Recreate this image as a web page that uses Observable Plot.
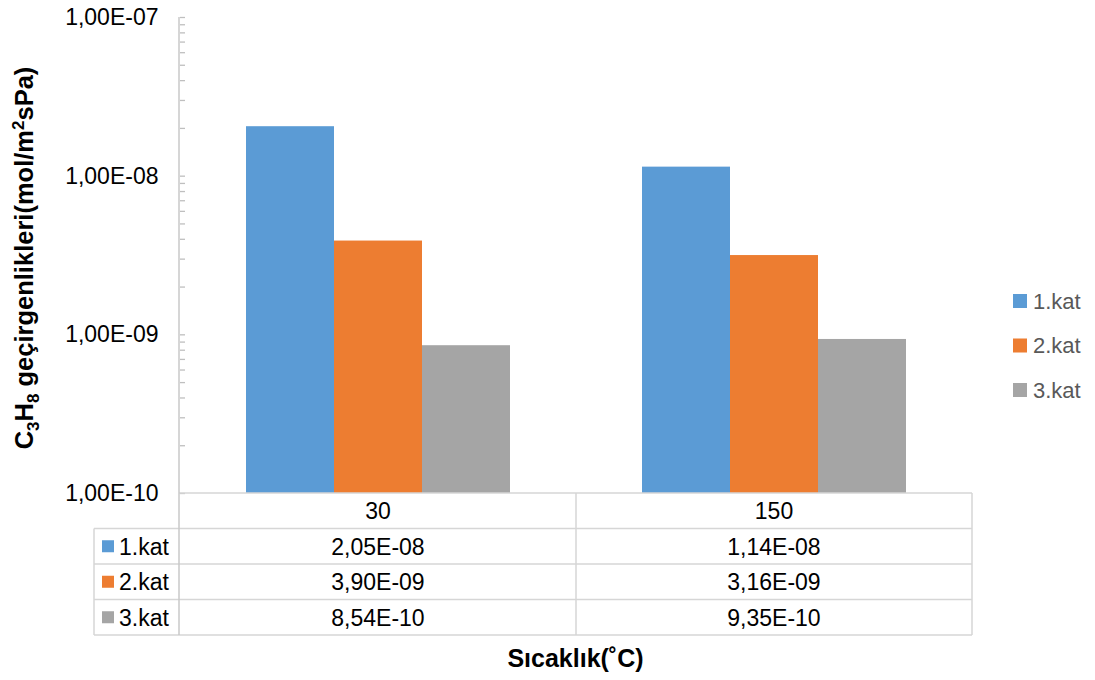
<!DOCTYPE html>
<html>
<head>
<meta charset="utf-8">
<script src="https://cdn.jsdelivr.net/npm/d3@7"></script>
<script src="https://cdn.jsdelivr.net/npm/@observablehq/plot@0.6"></script>
<style>
  html, body { margin: 0; padding: 0; background: #fff; }
  #chart { position: relative; width: 1095px; height: 680px; }
  svg { font-family: "Liberation Sans", Arial, sans-serif; }
</style>
</head>
<body>
<div id="chart"></div>
<script>
// ---- data ----
const categories = ["30", "150"];
const series = ["1.kat", "2.kat", "3.kat"];
const kat1 = [2.05e-8, 1.14e-8];
const kat2 = [3.90e-9, 3.16e-9];
const kat3 = [8.54e-10, 9.35e-10];
const yMajorTicks = [1e-10, 1e-9, 1e-8, 1e-7];
const yMinorTicks = [2e-10,3e-10,4e-10,5e-10,6e-10,7e-10,8e-10,9e-10,
                     2e-9,3e-9,4e-9,5e-9,6e-9,7e-9,8e-9,9e-9,
                     2e-8,3e-8,4e-8,5e-8,6e-8,7e-8,8e-8,9e-8];
const colors = ["#5b9bd5", "#ed7d31", "#a5a5a5"];
const yTitle = "geçirgenlikleri(mol/m";
const xTitle = "Sıcaklık(˚C)";

const seriesValues = [kat1, kat2, kat3];
const data = [];
series.forEach((s, i) => categories.forEach((c, j) => data.push({cat: c, series: s, value: seriesValues[i][j]})));

function fmtE(v) {
  const [m, e] = v.toExponential(2).split("e");
  const n = +e;
  return m.replace(".", ",") + "E" + (n < 0 ? "-" : "+") + String(Math.abs(n)).padStart(2, "0");
}

const W = 1095, H = 680;
const mL = 179, mR = 123, mT = 17, mB = 187;
const lineColor = "#d6d6d6";

const plot = Plot.plot({
  width: W, height: H,
  marginTop: mT, marginBottom: mB, marginLeft: mL, marginRight: mR,
  style: {fontFamily: "Liberation Sans, Arial, sans-serif", background: "#fff"},
  fx: {domain: categories, padding: 0, axis: null, label: null},
  x: {domain: series, paddingInner: 0, paddingOuter: 0.75, axis: null},
  y: {type: "log", domain: [yMajorTicks[0], yMajorTicks[yMajorTicks.length - 1]], axis: null, label: null},
  color: {domain: series, range: colors},
  marks: [
    Plot.barY(data, {fx: "cat", x: "series", y1: yMajorTicks[0], y2: "value", fill: "series", inset: 0}),
    Plot.axisY(yMinorTicks.concat(yMajorTicks), {anchor: "left", tickSize: 5, dx: 5, tickFormat: () => "", stroke: "#bfbfbf", strokeWidth: 1.3, label: null}),
    Plot.axisY(yMajorTicks, {anchor: "left", tickSize: 0, tickPadding: 22, tickFormat: fmtE, fontSize: 23, fill: "#000", label: null})
  ]
});

document.getElementById("chart").appendChild(plot);

// ---- axis line, data table, titles, legend ----
const svg = d3.select(plot);
const fx = plot.scale("fx");
const y = plot.scale("y");
const yTop = y.apply(yMajorTicks[yMajorTicks.length - 1]);
const yBase = y.apply(yMajorTicks[0]);
const bw = fx.bandwidth;
const colX = categories.map(c => fx.apply(c));
const xRight = colX[colX.length - 1] + bw;
const leftX = 94;
const rowH = 35.5;
const rows = [yBase, yBase + rowH, yBase + 2 * rowH, yBase + 3 * rowH, yBase + 4 * rowH];

const g = svg.append("g").attr("text-anchor", "start").attr("font-family", "Liberation Sans, Arial, sans-serif");
// horizontal lines
g.append("line").attr("x1", mL).attr("x2", xRight).attr("y1", rows[0]).attr("y2", rows[0]).attr("stroke", lineColor).attr("stroke-width", 1.5);
for (let r = 1; r < rows.length; r++) {
  g.append("line").attr("x1", leftX).attr("x2", xRight).attr("y1", rows[r]).attr("y2", rows[r]).attr("stroke", lineColor).attr("stroke-width", 1.5);
}
// axis line (continues into table)
g.append("line").attr("x1", mL).attr("x2", mL).attr("y1", yTop).attr("y2", rows[4]).attr("stroke", "#c8c8c8").attr("stroke-width", 1.5);
// column lines
colX.concat([xRight]).forEach((x, i) => {
  if (i === 0) return;
  g.append("line").attr("x1", x).attr("x2", x).attr("y1", rows[0]).attr("y2", rows[4]).attr("stroke", lineColor).attr("stroke-width", 1.5);
});
g.append("line").attr("x1", leftX).attr("x2", leftX).attr("y1", rows[1]).attr("y2", rows[4]).attr("stroke", lineColor).attr("stroke-width", 1.5);

// header row
categories.forEach((c, j) => {
  g.append("text").attr("x", colX[j] + bw / 2).attr("y", (rows[0] + rows[1]) / 2).attr("dy", "0.36em")
    .attr("text-anchor", "middle").attr("font-size", 23).attr("fill", "#000").text(c);
});
// data rows
series.forEach((s, i) => {
  const yc = (rows[i + 1] + rows[i + 2]) / 2;
  g.append("rect").attr("x", 102).attr("y", yc - 6).attr("width", 12).attr("height", 12).attr("fill", colors[i]);
  g.append("text").attr("x", 119).attr("y", yc).attr("dy", "0.36em").attr("text-anchor", "start")
    .attr("font-size", 23).attr("fill", "#000").text(s);
  categories.forEach((c, j) => {
    g.append("text").attr("x", colX[j] + bw / 2).attr("y", yc).attr("dy", "0.36em")
      .attr("text-anchor", "middle").attr("font-size", 23).attr("fill", "#000").text(fmtE(seriesValues[i][j]));
  });
});

// x title
g.append("text").attr("x", (mL + xRight) / 2).attr("y", 667).attr("text-anchor", "middle")
  .attr("font-size", 25).attr("font-weight", "bold").attr("fill", "#000").text(xTitle);

// y title with sub/superscripts
const yt = g.append("text").attr("transform", `translate(33,${(yTop + yBase) / 2 + 3}) rotate(-90)`)
  .attr("text-anchor", "middle").attr("font-size", 25.5).attr("font-weight", "bold").attr("fill", "#000");
yt.append("tspan").text("C");
yt.append("tspan").attr("font-size", 17).attr("dy", 6).text("3");
yt.append("tspan").attr("dy", -6).text("H");
yt.append("tspan").attr("font-size", 17).attr("dy", 6).text("8");
yt.append("tspan").attr("dy", -6).text(" " + yTitle);
yt.append("tspan").attr("font-size", 17).attr("dy", -9).text("2");
yt.append("tspan").attr("dy", 9).text("sPa)");

// legend
series.forEach((s, i) => {
  const yc = 301 + i * 44.5;
  g.append("rect").attr("x", 1013).attr("y", yc - 7).attr("width", 14).attr("height", 14).attr("fill", colors[i]);
  g.append("text").attr("x", 1033).attr("y", yc).attr("dy", "0.36em").attr("text-anchor", "start")
    .attr("font-size", 22).attr("fill", "#595959").text(s);
});
</script>
</body>
</html>
